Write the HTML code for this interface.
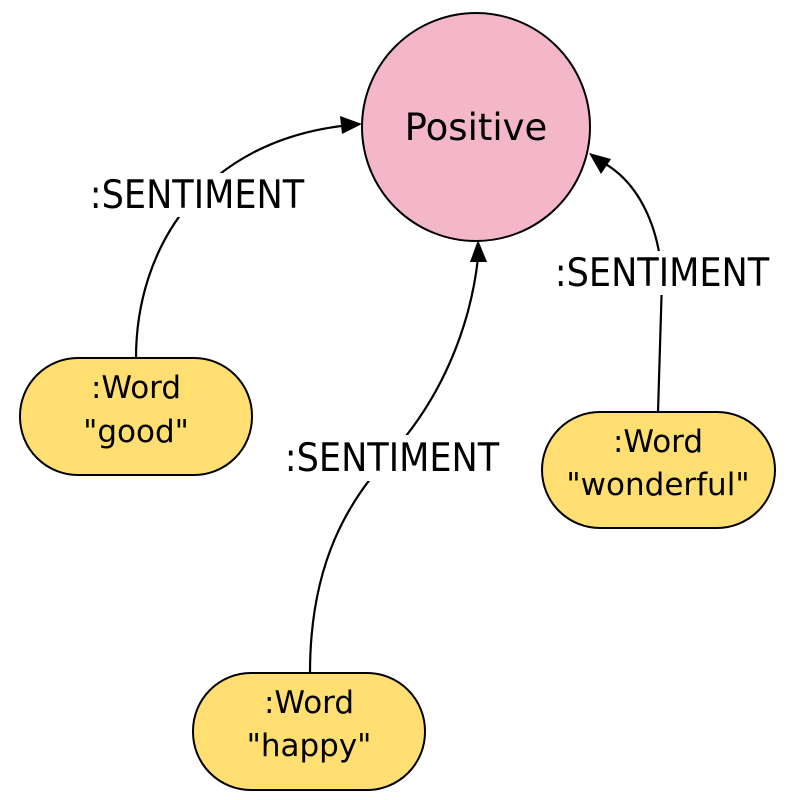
<!DOCTYPE html>
<html><head><style>body{margin:0;background:#fff}svg{display:block}text{font-family:"DejaVu Sans","Liberation Sans",sans-serif;fill:#000}.c{font-family:"DejaVu Sans Condensed","DejaVu Sans",sans-serif;font-stretch:condensed}</style></head><body>
<svg width="795" height="800" viewBox="0 0 795 800">
<g fill="none" stroke="#000" stroke-width="2.2">
<path d="M136,358 C136,250 200,140 350,125"/>
<path d="M658,412 L662,280 C660,230 640,180 598,160"/>
<path d="M310,673 C310,560 350,500 390,455 C440,400 470,330 478,258"/>
</g>
<polygon points="362,124 340,116 342,134" fill="#000"/>
<polygon points="589,153 611,159 601,174" fill="#000"/>
<polygon points="478,240 470,262 487,262" fill="#000"/>
<rect x="86" y="173" width="222" height="44" fill="#fff"/>
<rect x="551" y="251" width="222" height="44" fill="#fff"/>
<rect x="281" y="435" width="222" height="46" fill="#fff"/>
<g font-size="39" text-anchor="middle" class="c">
<text x="197" y="208">:SENTIMENT</text>
<text x="662" y="286">:SENTIMENT</text>
<text x="392" y="471">:SENTIMENT</text>
</g>
<circle cx="476" cy="127" r="114" fill="#f4b6c9" stroke="#000" stroke-width="2"/>
<text x="476" y="140" font-size="37" text-anchor="middle">Positive</text>
<g fill="#ffdf71" stroke="#000" stroke-width="2">
<rect x="20" y="358" width="232" height="117" rx="58"/>
<rect x="542" y="412" width="233" height="116" rx="58"/>
<rect x="193" y="673" width="232" height="117" rx="58"/>
</g>
<g font-size="31" text-anchor="middle">
<text x="136" y="398">:Word</text><text x="136" y="442">"good"</text>
<text x="658" y="452">:Word</text><text x="658" y="495">"wonderful"</text>
<text x="309" y="713">:Word</text><text x="309" y="756">"happy"</text>
</g>
</svg>
</body></html>
